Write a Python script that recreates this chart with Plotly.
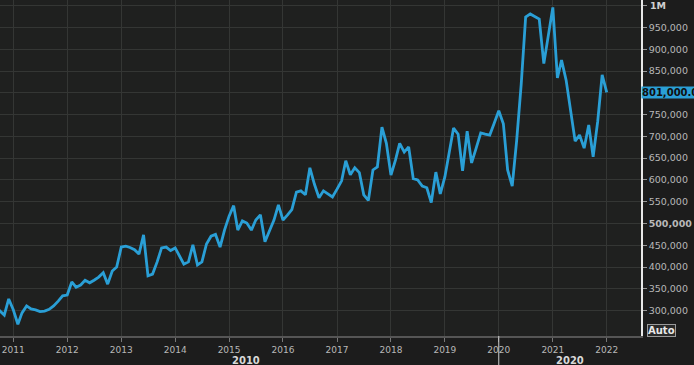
import pandas as pd
import plotly.graph_objects as go

# Monthly values (thousands), Sep 2010 .. Jan 2022
start_month = "2010-09-01"
values_k = [
    315, 300, 290, 327,                                              # 2010 Sep-Dec
    302, 269, 295, 311, 304, 302, 298, 299, 303, 311, 322, 334,      # 2011
    336, 366, 354, 359, 370, 364, 370, 377, 387, 361, 391, 400,      # 2012
    446, 448, 445, 440, 430, 474, 380, 384, 412, 444, 446, 438,      # 2013
    444, 426, 407, 412, 451, 405, 412, 453, 471, 475, 446, 485,      # 2014
    517, 541, 485, 506, 501, 485, 508, 520, 458, 483, 508, 543,      # 2015
    508, 520, 532, 572, 575, 566, 628, 590, 559, 575, 568, 561,      # 2016
    579, 598, 644, 612, 628, 617, 566, 553, 623, 630, 721, 684,      # 2017
    611, 646, 684, 664, 676, 603, 600, 586, 582, 548, 618, 568,      # 2018
    607, 662, 719, 705, 621, 712, 639, 673, 708, 705, 703, 730,      # 2019
    759, 729, 623, 586, 690, 820, 974, 981, 975, 969, 867, 926,      # 2020
    996, 834, 875, 829, 756, 689, 703, 673, 726, 653, 735, 841,      # 2021
    801,                                                             # 2022 Jan
]
dates = pd.date_range(start_month, periods=len(values_k), freq="MS")
values = [v * 1000 for v in values_k]

y_tickvals = list(range(300000, 1000001, 50000))
y_ticktext = []
for v in y_tickvals:
    if v == 1000000:
        y_ticktext.append("")          # drawn as annotation "1M"
    elif v == 800000:
        y_ticktext.append("")          # covered by last-value box
    elif v == 500000:
        y_ticktext.append("<b>500,000</b>")
    else:
        y_ticktext.append(f"{v:,}")
top_label = "1M"

x_years = [str(y) for y in range(2011, 2023)]
x_tickvals = [f"{y}-01-01" for y in x_years]
decade_labels = ["2010", "2020"]
last_label = "801,000.0"

LINE = "#2a9fd6"
GRID = "#343634"
TXT = "#b8b8b8"

fig = go.Figure()
fig.add_trace(go.Scatter(
    x=dates, y=values, mode="lines",
    line=dict(color=LINE, width=2.8),
    hoverinfo="skip", showlegend=False,
))

fig.update_layout(
    width=694, height=365,
    margin=dict(l=0, r=53, t=0, b=29),
    paper_bgcolor="#1c1c1c",
    plot_bgcolor="#1f201f",
    font=dict(family="DejaVu Sans", color=TXT, size=9.5),
    xaxis=dict(
        range=["2010-10-03", "2022-08-21"],
        tickvals=x_tickvals, ticktext=x_years,
        showgrid=True, gridcolor=GRID, gridwidth=1,
        ticks="outside", ticklen=4, tickcolor="#777",
        tickfont=dict(size=9, color=TXT),
        showline=True, linecolor="#555", linewidth=2,
        zeroline=False,
    ),
    yaxis=dict(
        side="right",
        range=[241946, 1012942],
        tickvals=y_tickvals, ticktext=y_ticktext,
        showgrid=True, gridcolor=GRID, gridwidth=1,
        ticks="outside", ticklen=4, tickcolor="#999",
        tickfont=dict(size=9.5, color=TXT),
        showline=True, linecolor="#e8e8e8", linewidth=1.5,
        zeroline=False,
    ),
)

annotations = [
    dict(x=1.0, xref="paper", y=801000, yref="y", text=f"<b>{last_label}</b>",
         xanchor="left", yanchor="middle", showarrow=False,
         bgcolor=LINE, font=dict(color="#101010", size=10), borderpad=0),
    dict(x=647.5 / 641, xref="paper", y=1000000, yref="y",
         text=f"<b>{top_label}</b>", xanchor="left", yanchor="middle",
         showarrow=False, font=dict(color="#d0d0d0", size=9.5)),
    dict(x=661.7 / 641, xref="paper", y=(336 - 330.3) / 336, yref="paper",
         text="<b>Auto</b>", xanchor="center", yanchor="middle", showarrow=False,
         bordercolor="#9a9a9a", borderwidth=1, borderpad=0, bgcolor="#2a2a2a",
         font=dict(color="#e8e8e8", size=10)),
]
for lbl, px in zip(decade_labels, [246, 570]):
    annotations.append(dict(
        x=px / 641, xref="paper", y=-(360.5 - 336) / 336, yref="paper",
        text=f"<b>{lbl}</b>", xanchor="center", yanchor="middle",
        showarrow=False, font=dict(color="#d8d8d8", size=10)))
fig.update_layout(annotations=annotations)

fig.add_shape(type="line", xref="x", yref="paper",
              x0="2020-01-01", x1="2020-01-01", y0=0, y1=-29 / 336,
              line=dict(color="#cfcfcf", width=1))

fig.write_html("out.html")
